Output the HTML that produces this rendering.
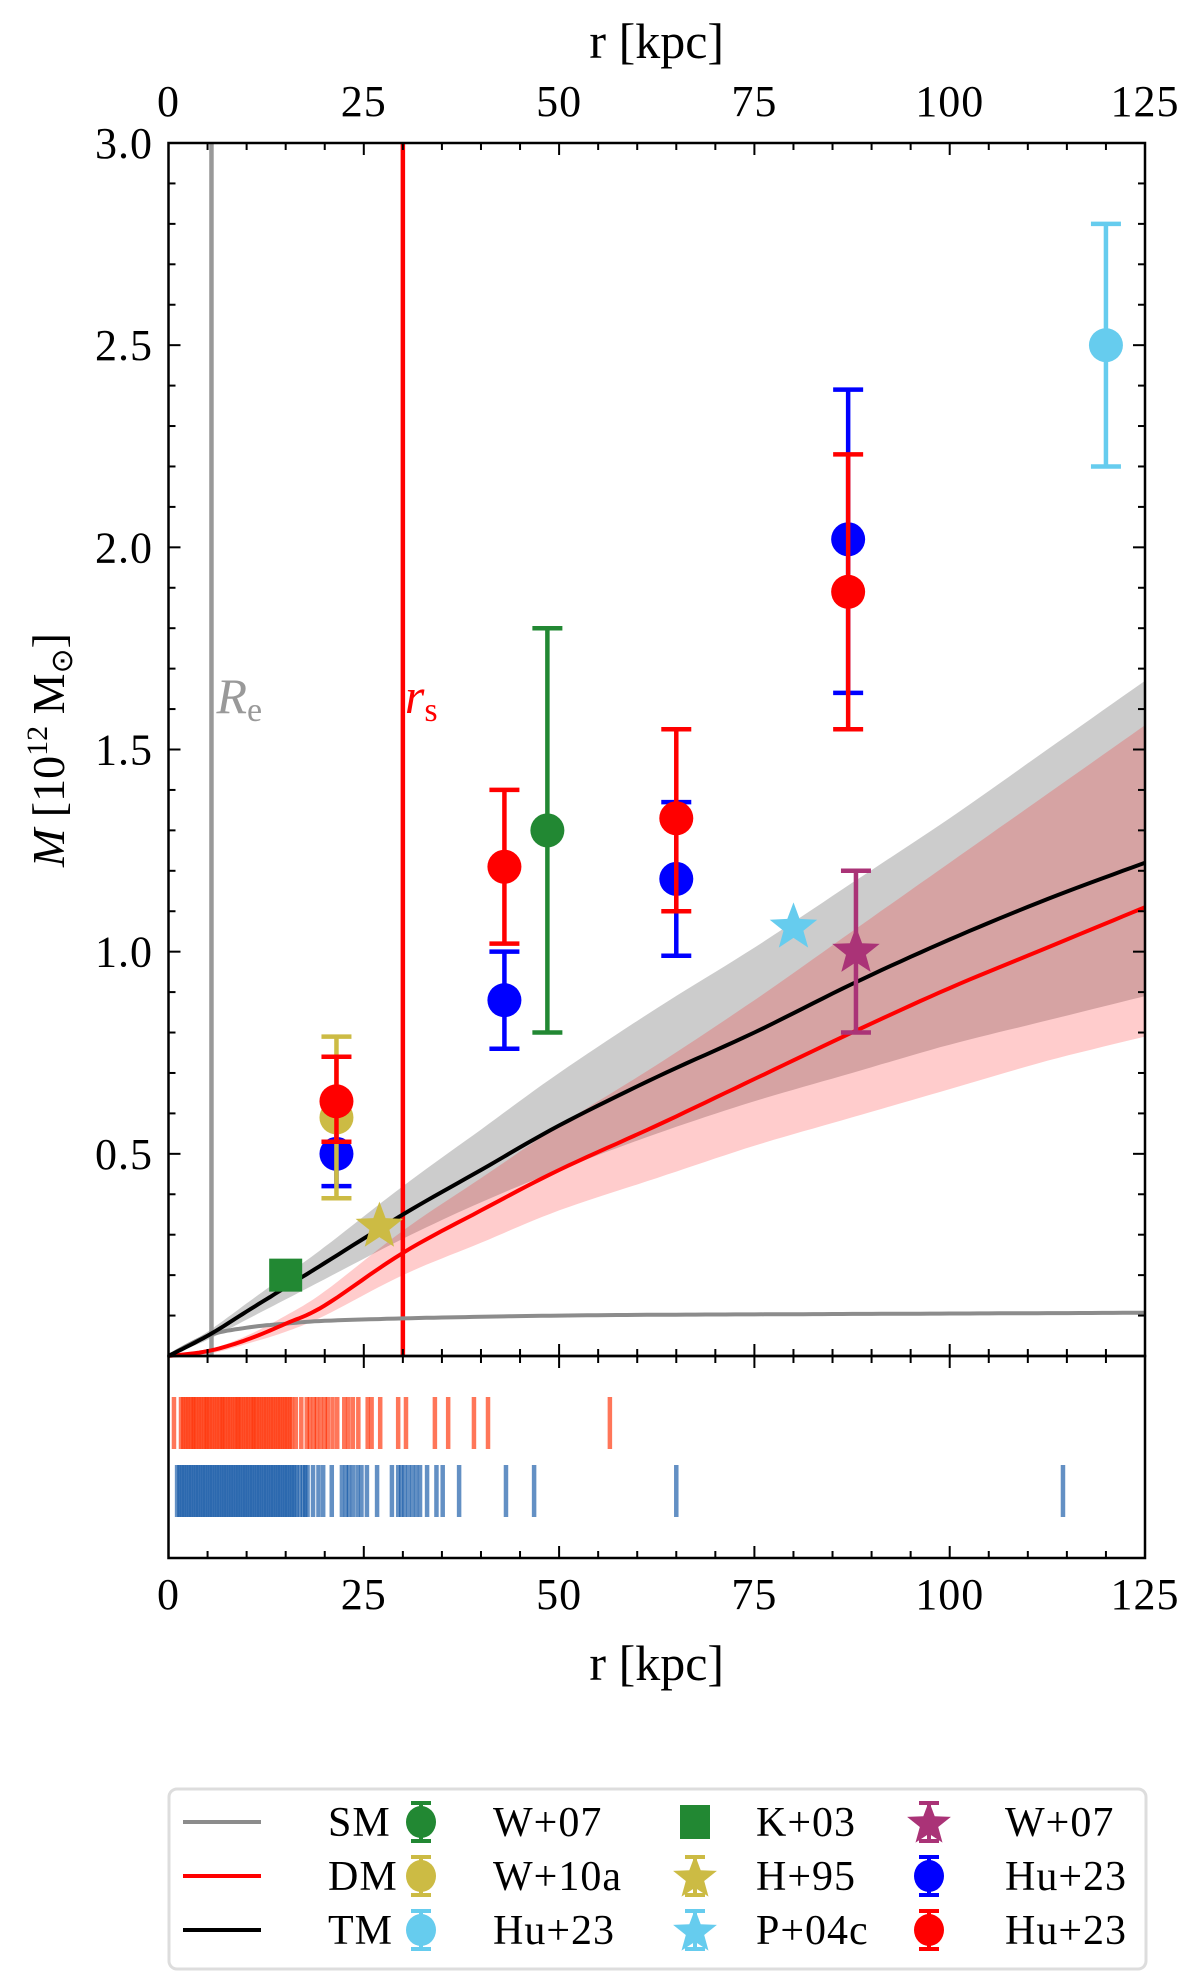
<!DOCTYPE html>
<html><head><meta charset="utf-8"><style>
html,body{margin:0;padding:0;background:#fff;}
svg{display:block;font-family:"Liberation Serif",serif;}
</style></head><body>
<svg id="chart" width="1200" height="1981" viewBox="0 0 1200 1981" xmlns="http://www.w3.org/2000/svg">
<g id="bands"></g>
<g id="lines"></g>
<g id="points"></g>
<g id="rug"></g>
<g id="axes"></g>
<g id="legend"></g>
</svg>
<script>
const radii=[0,5,10,15,20,30,40,50,62.5,75,87.5,100,112.5,125];
const tmMass=[0,0.05,0.11,0.17,0.23,0.35,0.46,0.57,0.69,0.80,0.92,1.03,1.13,1.22];
const dmMass=[0,0.012,0.04,0.08,0.125,0.255,0.36,0.46,0.57,0.685,0.80,0.91,1.01,1.11];
const tmUpper=[0,0.06,0.13,0.20,0.27,0.42,0.56,0.70,0.86,1.01,1.17,1.33,1.50,1.67];
const tmLower=[0,0.04,0.09,0.14,0.19,0.29,0.38,0.46,0.55,0.63,0.70,0.77,0.83,0.89];
const dmUpper=[0,0.015,0.05,0.10,0.16,0.31,0.44,0.57,0.72,0.88,1.05,1.22,1.39,1.56];
const dmLower=[0,0.005,0.03,0.06,0.10,0.20,0.28,0.36,0.44,0.52,0.59,0.66,0.73,0.79];
const smMass=[0,0.05,0.07,0.08,0.087,0.093,0.097,0.10,0.102,0.103,0.104,0.105,0.106,0.107];
const effRadius=5.5, scaleRadius=30;
const w07Circle=[[48.5,1.30,0.80,1.80]];
const w10a=[[21.5,0.59,0.39,0.79]];
const hu23Light=[[120,2.50,2.20,2.80]];
const hu23Blue=[[21.5,0.50,0.42,0.58],[43,0.88,0.76,1.00],[65,1.18,0.99,1.37],[87,2.02,1.64,2.39]];
const hu23Red=[[21.5,0.63,0.53,0.74],[43,1.21,1.02,1.40],[65,1.33,1.10,1.55],[87,1.89,1.55,2.23]];
const w07Star=[[88,1.00,0.80,1.20]];
const k03=[[15,0.20]];
const h95=[[27,0.32]];
const p04c=[[80,1.06]];
const rugRed=[0.7,1.6,1.9,2.2,2.5,2.8,3.1,3.3,3.6,3.9,4.2,4.5,4.8,5.0,5.3,5.6,5.9,6.2,6.5,6.8,7.0,7.3,7.6,7.9,8.2,8.5,8.8,9.0,9.3,9.6,9.9,10.2,10.5,10.8,11.0,11.3,11.6,11.9,12.2,12.5,12.8,13.1,13.4,13.7,14.0,14.3,14.6,14.9,15.2,15.5,15.8,16.3,17.0,17.7,18.1,18.6,19.0,19.5,20.0,20.4,21.0,21.6,22.5,23.0,23.6,24.3,25.5,26.0,27.1,29.4,30.4,34.1,35.8,39.1,40.9,56.5];
const rugBlue=[1.1,1.4,1.7,2.0,2.3,2.6,2.9,3.2,3.5,3.8,4.1,4.4,4.7,5.0,5.3,5.6,5.9,6.2,6.5,6.8,7.1,7.4,7.7,8.0,8.3,8.6,8.9,9.2,9.5,9.8,10.1,10.4,10.7,11.0,11.3,11.6,11.9,12.2,12.5,12.8,13.1,13.4,13.7,14.0,14.3,14.6,14.9,15.2,15.5,15.8,16.1,16.4,16.8,17.2,17.5,17.8,18.5,19.2,19.8,20.9,22.2,22.7,23.1,23.6,24.2,24.7,25.4,26.7,28.6,29.4,29.8,30.2,30.7,31.2,31.7,32.2,33.1,34.3,35.1,37.2,43.2,46.8,65.0,114.5];
const xTicks=[0,25,50,75,100,125];
const yTicks=[0.5,1.0,1.5,2.0,2.5,3.0];

const NS="http://www.w3.org/2000/svg";
const L=168.5,R=1145,T=143,B=1356,RB=1558;
const X=r=>L+r*(R-L)/125;
const Y=m=>B-m*(B-T)/3;
function mk(tag,attrs,parent){const e=document.createElementNS(NS,tag);for(const k in attrs)e.setAttribute(k,attrs[k]);parent.appendChild(e);return e;}
const gB=document.getElementById('bands'),gL=document.getElementById('lines'),gP=document.getElementById('points'),gR=document.getElementById('rug'),gA=document.getElementById('axes'),gG=document.getElementById('legend');
// smooth (Catmull-Rom) sampling of a series
function smooth(v){const pts=radii.map((r,i)=>[X(r),Y(v[i])]);const out=[];
 for(let i=0;i<pts.length-1;i++){const p0=pts[Math.max(0,i-1)],p1=pts[i],p2=pts[i+1],p3=pts[Math.min(pts.length-1,i+2)];
  for(let s=0;s<10;s++){const t=s/10,t2=t*t,t3=t2*t;
   const f=(a,b,c,d)=>0.5*((2*b)+(-a+c)*t+(2*a-5*b+4*c-d)*t2+(-a+3*b-3*c+d)*t3);
   out.push([f(p0[0],p1[0],p2[0],p3[0]),f(p0[1],p1[1],p2[1],p3[1])]);}}
 out.push(pts[pts.length-1]);return out;}
function toD(p){return p.map((q,i)=>(i?'L':'M')+q[0].toFixed(1)+','+q[1].toFixed(1)).join('');}
function bandPath(up,lo){return toD(smooth(up).concat(smooth(lo).reverse()))+'Z';}
function linePath(v){return toD(smooth(v));}
let e;
e=mk('path',{d:bandPath(tmUpper,tmLower),fill:'rgba(0,0,0,0.2)'},gB);


e=mk('path',{d:bandPath(dmUpper,dmLower),fill:'rgba(255,0,0,0.2)'},gB);


e=mk('line',{x1:X(effRadius),x2:X(effRadius),y1:T,y2:B,stroke:'#999',"stroke-width":4.5},gL);


e=mk('line',{x1:X(scaleRadius),x2:X(scaleRadius),y1:T,y2:B,stroke:'#f00',"stroke-width":4.5},gL);


e=mk('path',{d:linePath(smMass),fill:'none',stroke:'#8c8c8c',"stroke-width":4},gL);


e=mk('path',{d:linePath(dmMass),fill:'none',stroke:'#f00',"stroke-width":4},gL);


e=mk('path',{d:linePath(tmMass),fill:'none',stroke:'#000',"stroke-width":4},gL);


e=mk('text',{x:X(effRadius)+5,y:713,fill:'#999',"font-size":50,"font-style":"italic"},gL);
e.innerHTML='R<tspan font-style="normal" font-size="34" dy="8">e</tspan>';


e=mk('text',{x:X(scaleRadius)+2,y:713,fill:'#f00',"font-size":50,"font-style":"italic"},gL);
e.innerHTML='r<tspan font-style="normal" font-size="34" dy="8">s</tspan>';



function star(cx,cy,ro,parent,col){const ri=ro*0.42;let p=[];for(let i=0;i<10;i++){const a=-Math.PI/2+i*Math.PI/5,rr=i%2?ri:ro;p.push((cx+rr*Math.cos(a)).toFixed(1)+','+(cy+rr*Math.sin(a)).toFixed(1));}return mk('polygon',{points:p.join(' '),fill:col},parent);}
function errGroup(data,col,shape,name){data.forEach(d=>{const g=mk('g',{},gP);
 const cx=X(d[0]),cy=Y(d[1]);
 if(d.length>2){mk('line',{x1:cx,x2:cx,y1:Y(d[2]),y2:Y(d[3]),stroke:col,"stroke-width":4.5},g);
  [d[2],d[3]].forEach(v=>mk('line',{x1:cx-15,x2:cx+15,y1:Y(v),y2:Y(v),stroke:col,"stroke-width":4.5},g));}
 if(shape==='c')mk('circle',{cx:cx,cy:cy,r:17,fill:col},g);
 else if(shape==='s')mk('rect',{x:cx-16.5,y:cy-16.5,width:33,height:33,fill:col},g);
 else star(cx,cy,25,g,col);});}
errGroup(w07Circle,'#228833','c','w07-point');
errGroup(hu23Light,'#66ccee','c','hu23-light-point');
errGroup(hu23Blue,'#0000ff','c','hu23-blue-point');
errGroup(w10a,'#ccbb44','c','w10a-point');
errGroup(hu23Red,'#ff0000','c','hu23-red-point');
errGroup(k03,'#228833','s','k03-point');
errGroup(h95,'#ccbb44','*','h95-point');
errGroup(p04c,'#66ccee','*','p04c-point');
errGroup(w07Star,'#aa3377','*','w07-star-point');

rugRed.forEach(r=>{const l=mk('line',{x1:X(r),x2:X(r),y1:1397,y2:1449,stroke:'rgba(255,45,0,0.65)',"stroke-width":4.5},gR);});
rugBlue.forEach(r=>{const l=mk('line',{x1:X(r),x2:X(r),y1:1465,y2:1517,stroke:'rgba(15,85,165,0.65)',"stroke-width":4.5},gR);});

e=mk('rect',{x:L,y:T,width:R-L,height:B-T,fill:'none',stroke:'#000',"stroke-width":2.5},gA);


e=mk('rect',{x:L,y:B,width:R-L,height:RB-B,fill:'none',stroke:'#000',"stroke-width":2.5},gA);


for(let r=0;r<=125;r+=5){const maj=r%25===0,len=maj?12:7,x=X(r);
 [[T,1],[B,-1],[B,1],[RB,-1]].forEach(([y0,s])=>mk('line',{x1:x,x2:x,y1:y0,y2:y0+s*len,stroke:'#000',"stroke-width":2},gA));}
for(let i=1;i<30;i++){const m=i/10,maj=i%5===0,len=maj?12:7,y=Y(m);
 mk('line',{x1:L,x2:L+len,y1:y,y2:y,stroke:'#000',"stroke-width":2},gA);
 mk('line',{x1:R,x2:R-len,y1:y,y2:y,stroke:'#000',"stroke-width":2},gA);}
xTicks.forEach(v=>{let t=mk('text',{x:X(v),y:1609,"text-anchor":"middle","font-size":44,"letter-spacing":1},gA);t.textContent=v;
 t=mk('text',{x:X(v),y:116,"text-anchor":"middle","font-size":44,"letter-spacing":1},gA);t.textContent=v;});
yTicks.forEach(v=>{const t=mk('text',{x:153,y:Y(v)+15,"text-anchor":"end","font-size":44,"letter-spacing":1},gA);t.textContent=v.toFixed(1);});
e=mk('text',{x:(L+R)/2,y:1680,"text-anchor":"middle","font-size":50},gA);e.textContent='r [kpc]';


e=mk('text',{x:(L+R)/2,y:58,"text-anchor":"middle","font-size":50},gA);e.textContent='r [kpc]';


e=mk('text',{x:0,y:0,"text-anchor":"middle","font-size":46,transform:'translate(64,750) rotate(-90)'},gA);
e.innerHTML='<tspan font-style="italic">M</tspan> [10<tspan font-size="30" dy="-17">12</tspan><tspan dy="17"> M</tspan><tspan font-size="30" dy="8">⊙</tspan><tspan dy="-8">]</tspan>';



e=mk('rect',{x:169,y:1789,width:977,height:180,rx:8,fill:'#fff',stroke:'#ddd',"stroke-width":3},gG);


const rows=[1822,1876,1930];
const legLines=[['SM','#8c8c8c'],['DM','#f00'],['TM','#000']];
legLines.forEach((d,i)=>{const g=mk('g',{},gG);
 mk('line',{x1:183,x2:261,y1:rows[i],y2:rows[i],stroke:d[1],"stroke-width":4},g);
 const t=mk('text',{x:328,y:rows[i]+14,"font-size":42,"letter-spacing":1},g);t.textContent=d[0];});
const legMarks=[[421,493,[['W+07','#228833','c'],['W+10a','#ccbb44','c'],['Hu+23','#66ccee','c']]],
 [695,756,[['K+03','#228833','s'],['H+95','#ccbb44','*'],['P+04c','#66ccee','*']]],
 [929,1005,[['W+07','#aa3377','*'],['Hu+23','#0000ff','c'],['Hu+23','#ff0000','c']]]];
legMarks.forEach(([mx,tx,items])=>items.forEach((d,i)=>{const g=mk('g',{},gG);
 const cy=rows[i];
 if(d[2]!=='s'){[cy-19,cy+19].forEach(y=>mk('line',{x1:mx-10,x2:mx+10,y1:y,y2:y,stroke:d[1],"stroke-width":4},g));mk('line',{x1:mx,x2:mx,y1:cy-19,y2:cy+19,stroke:d[1],"stroke-width":4},g);}
 if(d[2]==='c')mk('ellipse',{cx:mx,cy:cy,rx:15,ry:16,fill:d[1]},g);
 else if(d[2]==='s')mk('rect',{x:mx-15,y:cy-17,width:30,height:34,fill:d[1]},g);
 else star(mx,cy+2,23,g,d[1]);
 const t=mk('text',{x:tx,y:cy+14,"font-size":42,"letter-spacing":1},g);t.textContent=d[0];}));
</script>
</body></html>
